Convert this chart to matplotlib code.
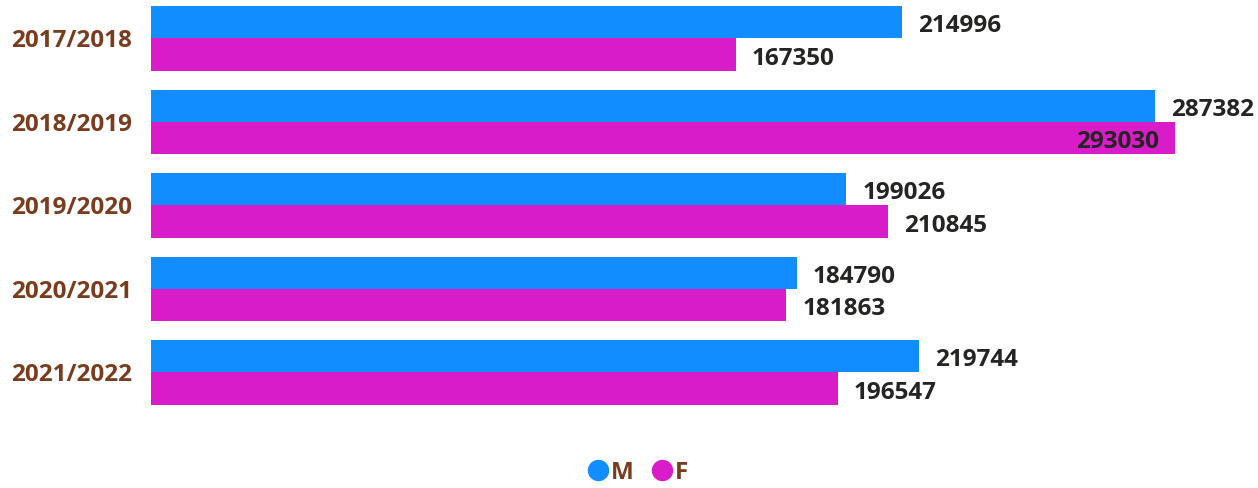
import matplotlib.pyplot as plt
import numpy as np
from matplotlib.lines import Line2D

plt.rcParams['font.family'] = ['Open Sans', 'DejaVu Sans']

years = ['2017/2018', '2018/2019', '2019/2020', '2020/2021', '2021/2022']
male = [214996, 287382, 199026, 184790, 219744]
female = [167350, 293030, 210845, 181863, 196547]

blue = '#118DFF'
pink = '#D91CC9'
brown = '#7A3C1E'
dark = '#252423'

W, H = 1258, 488
fig = plt.figure(figsize=(W / 100, H / 100), dpi=100)
# axes placed in pixels: left 151, right edge of figure, top 0, bottom 414
ax = fig.add_axes([151 / W, 1 - 414 / H, 1107 / W, 414 / H])

y = np.arange(len(years))
h = 0.389
ax.barh(y - h / 2, male, height=h, color=blue)
ax.barh(y + h / 2, female, height=h, color=pink)

xmax = 316829
ax.set_xlim(0, xmax)
ax.set_ylim(4.497, -0.461)

px = xmax / 1107
for i in range(len(years)):
    for val, yy in [(male[i], y[i] - h / 2), (female[i], y[i] + h / 2)]:
        txt = str(val)
        # label goes inside the bar only when it would not fit on the right
        if val + px * (16 + 82) > xmax:
            ax.text(val - px * 16, yy + 0.05, txt, ha='right', va='center',
                    fontsize=17.5, fontweight='bold', color=dark)
        else:
            ax.text(val + px * 16, yy + 0.05, txt, ha='left', va='center',
                    fontsize=17.5, fontweight='bold', color=dark)

ax.set_yticks(y)
ax.set_yticklabels(years, fontsize=17.5, fontweight='bold', color=brown)
ax.tick_params(axis='y', length=0, pad=13.7)
ax.set_xticks([])
for s in ax.spines.values():
    s.set_visible(False)

handles = [Line2D([], [], marker='o', linestyle='', markersize=14.4, color=blue, label='M'),
           Line2D([], [], marker='o', linestyle='', markersize=14.4, color=pink, label='F')]
leg = fig.legend(handles=handles, loc='center', bbox_to_anchor=(638 / W, 1 - 473 / H),
                 ncol=2, frameon=False, handlelength=0.8, handletextpad=0.15,
                 columnspacing=0.75, prop={'size': 17.5, 'weight': 'bold'})
for t in leg.get_texts():
    t.set_color(brown)

fig.savefig('out.png', dpi=100)
